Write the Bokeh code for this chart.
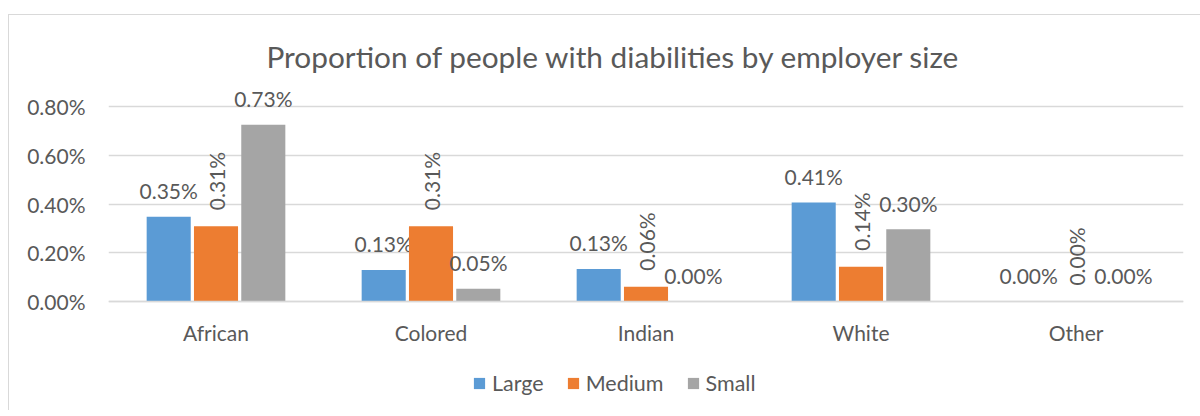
from math import pi
from bokeh.plotting import figure
from bokeh.models import (ColumnDataSource, FactorRange, Range1d, FixedTicker,
                          PrintfTickFormatter, Legend, LegendItem, Title)
from bokeh.transform import dodge
from bokeh.core.properties import value
from bokeh.embed import file_html
from bokeh.resources import INLINE

# ---- data ----
categories = ["African", "Colored", "Indian", "White", "Other"]
series = ["Large", "Medium", "Small"]
large = [0.349, 0.130, 0.134, 0.407, 0.0]
medium = [0.310, 0.310, 0.0615, 0.1436, 0.0]
small = [0.726, 0.053, 0.0, 0.297, 0.0]
y_ticks = [0.0, 0.2, 0.4, 0.6, 0.8]
colors = ["#5B9BD5", "#ED7D31", "#A5A5A5"]
title_text = "Proportion of people with diabilities by employer size"

FONT = "Lato"
TXT = "#595959"
GRID = "#d9d9d9"
FS = "21px"

values = {"Large": large, "Medium": medium, "Small": small}
data = dict(cat=categories)
for s in series:
    data[s] = values[s]
    data[s + "_lbl"] = [f"{v:.2f}%" for v in values[s]]
src = ColumnDataSource(data)

# frame spans below the zero line too, so the legend sits inside it
p = figure(x_range=FactorRange(factors=categories, range_padding=0),
           y_range=Range1d(-0.4472, 0.9),
           frame_width=1075, frame_height=328,
           output_backend="svg", toolbar_location=None,
           min_border_left=99, min_border_right=17,
           min_border_top=67, min_border_bottom=0,
           margin=(14, 0, 0, 8),
           styles={"border-top": "1px solid #d9d9d9",
                   "border-left": "1px solid #d9d9d9"})

p.title = Title(text=title_text, align="left", offset=158,
                text_font=FONT, text_font_size="29.8px",
                text_font_style="normal", text_color=TXT, standoff=17)

offsets = [-0.22, 0.0, 0.22]
items = []
for i, s in enumerate(series):
    xs = dodge("cat", offsets[i], range=p.x_range)
    r = p.vbar(x=xs, top=s, width=0.205, source=src,
               fill_color=colors[i], line_color=None)
    items.append(LegendItem(label=s, renderers=[r]))
    if s == "Medium":
        p.text(x=xs, y=s, text=s + "_lbl", source=src, angle=pi / 2,
               text_align="left", text_baseline="middle", y_offset=-16,
               text_font=value(FONT), text_font_size=FS, text_color=TXT)
    else:
        p.text(x=xs, y=s, text=s + "_lbl", source=src,
               text_align="center", text_baseline="alphabetic", y_offset=-26,
               text_font=value(FONT), text_font_size=FS, text_color=TXT)

legend = Legend(items=items, location=(364, 14), orientation="horizontal",
                glyph_width=14, glyph_height=14, label_standoff=6, spacing=22,
                padding=0, margin=0, border_line_color=None,
                background_fill_alpha=0, label_text_font=FONT,
                label_text_font_size="21.5px", label_text_color=TXT)
p.add_layout(legend, "center")

ticker = FixedTicker(ticks=y_ticks)
p.yaxis.ticker = ticker
p.yaxis.formatter = PrintfTickFormatter(format="%.2f%%")
p.yaxis.axis_line_color = None
p.yaxis.major_tick_line_color = None
p.yaxis.minor_tick_line_color = None
p.yaxis.major_label_standoff = 17
p.yaxis.major_label_text_font = FONT
p.yaxis.major_label_text_font_size = FS
p.yaxis.major_label_text_color = TXT

p.xaxis.fixed_location = 0
p.xaxis.axis_line_color = GRID
p.xaxis.axis_line_width = 1.5
p.xaxis.major_tick_line_color = None
p.xaxis.minor_tick_line_color = None
p.xaxis.major_label_standoff = 12
p.xaxis.major_label_text_font = FONT
p.xaxis.major_label_text_font_size = FS
p.xaxis.major_label_text_color = TXT

p.ygrid.ticker = ticker
p.ygrid.grid_line_color = GRID
p.ygrid.grid_line_width = 1.5
p.xgrid.grid_line_color = None
p.outline_line_color = None

open("out.html", "w").write(file_html(p, INLINE))
